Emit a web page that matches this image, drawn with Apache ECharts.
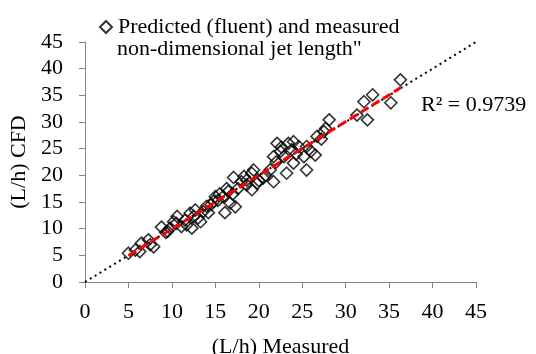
<!DOCTYPE html>
<html>
<head>
<meta charset="utf-8">
<script src="https://cdn.jsdelivr.net/npm/echarts@6/dist/echarts.min.js"></script>
<style>
html,body{margin:0;padding:0;background:#fff;}
#chart{width:536px;height:354px;}
</style>
</head>
<body>
<div id="chart"></div>
<script>
// Measured (x) vs CFD predicted (y) non-dimensional jet length (L/h)
const measured = [5.0, 5.8, 6.3, 6.5, 7.3, 7.9, 7.5, 8.8, 9.3, 9.5, 9.8, 10.2, 10.5, 10.6, 11.1, 11.5, 11.7, 12.1,
  12.3, 12.5, 12.7, 13.0, 13.3, 13.6, 14.0, 14.2, 14.5, 14.8, 15.0, 15.3, 15.5, 15.9, 16.1, 16.3, 16.5, 16.7, 17.0,
  17.1, 17.3, 17.6, 18.0, 18.3, 18.6, 18.6, 19.2, 19.2, 19.4, 19.8, 20.0, 20.5, 20.8, 21.3, 21.7, 21.7, 22.0, 22.1,
  22.5, 22.6, 22.9, 23.2, 23.4, 23.8, 24.0, 24.0, 24.3, 24.6, 25.2, 25.5, 25.5, 26.0, 26.5, 26.7, 27.2, 27.5, 27.7,
  28.1, 31.3, 32.1, 32.5, 33.1, 35.2, 36.3];
const cfd = [5.4, 6.0, 5.7, 7.3, 7.9, 6.6, 7.0, 10.3, 9.3, 9.5, 10.1, 11.3, 11.0, 12.3, 10.4, 11.6, 10.7, 12.9,
  10.1, 12.3, 13.5, 12.0, 11.3, 13.2, 14.2, 13.0, 14.5, 15.1, 16.0, 15.3, 16.5, 16.0, 13.0, 17.5, 17.0, 14.8, 16.5,
  19.6, 14.1, 17.5, 18.8, 19.8, 18.2, 19.1, 20.4, 17.3, 21.0, 18.5, 19.0, 19.5, 20.0, 21.0, 23.5, 18.8, 22.5, 26.0,
  24.5, 25.3, 23.5, 20.4, 26.0, 24.8, 22.3, 26.3, 24.0, 25.4, 23.5, 25.4, 21.0, 24.5, 23.8, 27.3, 26.8, 28.2, 28.8,
  30.4, 31.3, 33.8, 30.4, 35.1, 33.6, 37.9];
const axisTicks = [0, 5, 10, 15, 20, 25, 30, 35, 40, 45];
const seriesName = 'Predicted (fluent) and measured';
const legendLine2 = 'non-dimensional jet length"';
const r2Label = 'R² = 0.9739';

const points = measured.map((x, i) => [x, cfd[i]]);
// least squares trendline from the data
const n = measured.length;
const mx = measured.reduce((a, b) => a + b, 0) / n;
const my = cfd.reduce((a, b) => a + b, 0) / n;
let sxy = 0, sxx = 0;
for (let i = 0; i < n; i++) { sxy += (measured[i] - mx) * (cfd[i] - my); sxx += (measured[i] - mx) ** 2; }
const slope = sxy / sxx, icpt = my - slope * mx;
const xMin = Math.min(...measured), xMax = Math.max(...measured);
const trend = [[xMin, icpt + slope * xMin], [xMax, icpt + slope * xMax]];
const identity = [[axisTicks[0], axisTicks[0]], [axisTicks[axisTicks.length - 1], axisTicks[axisTicks.length - 1]]];

const FONT = 'Liberation Serif';
const axisCommon = {
  type: 'value', min: axisTicks[0], max: axisTicks[axisTicks.length - 1], interval: 5,
  nameLocation: 'middle',
  nameTextStyle: { fontFamily: FONT, fontSize: 22, color: '#000' },
  axisLine: { show: true, lineStyle: { color: '#868686', width: 1 } },
  axisTick: { show: true, inside: false, length: 6, lineStyle: { color: '#868686' } },
  splitLine: { show: false },
  axisLabel: { fontFamily: FONT, fontSize: 22, color: '#000' }
};

const chart = echarts.init(document.getElementById('chart'), null, { renderer: 'canvas' });
chart.setOption({
  animation: false,
  backgroundColor: '#fff',
  grid: { left: 85, right: 60, top: 42, bottom: 72, containLabel: false, outerBoundsMode: 'none' },
  xAxis: Object.assign({}, axisCommon, { name: '(L/h) Measured', nameGap: 54,
    axisLabel: Object.assign({}, axisCommon.axisLabel, { margin: 19 }) }),
  yAxis: Object.assign({}, axisCommon, { name: '(L/h) CFD', nameGap: 54,
    axisLabel: Object.assign({}, axisCommon.axisLabel, { margin: 22 }) }),
  legend: {
    data: [seriesName], left: 99, top: 16, itemWidth: 12, itemHeight: 12, itemGap: 0,
    padding: 0,
    textStyle: { fontFamily: FONT, fontSize: 22, color: '#000', padding: [0, 0, 0, 1] }
  },
  graphic: [
    { type: 'text', left: 117, top: 38, style: { text: legendLine2, font: '22px "Liberation Serif"', fill: '#000' } },
    { type: 'text', left: 421, top: 94, style: { text: r2Label, font: '22px "Liberation Serif"', fill: '#000' } }
  ],
  series: [
    { type: 'line', data: identity, symbol: 'none', silent: true, z: 1,
      lineStyle: { color: '#000', width: 2, type: [2, 3.7] } },
    { name: seriesName, type: 'scatter', data: points, symbol: 'diamond', symbolSize: 12, z: 2,
      itemStyle: { color: 'rgba(255,255,255,0)', borderColor: '#000', borderWidth: 1.6 } },
    { type: 'line', data: trend, symbol: 'none', silent: true, z: 3,
      lineStyle: { color: '#ff0000', width: 3, type: [9, 4] } }
  ]
});
</script>
</body>
</html>
